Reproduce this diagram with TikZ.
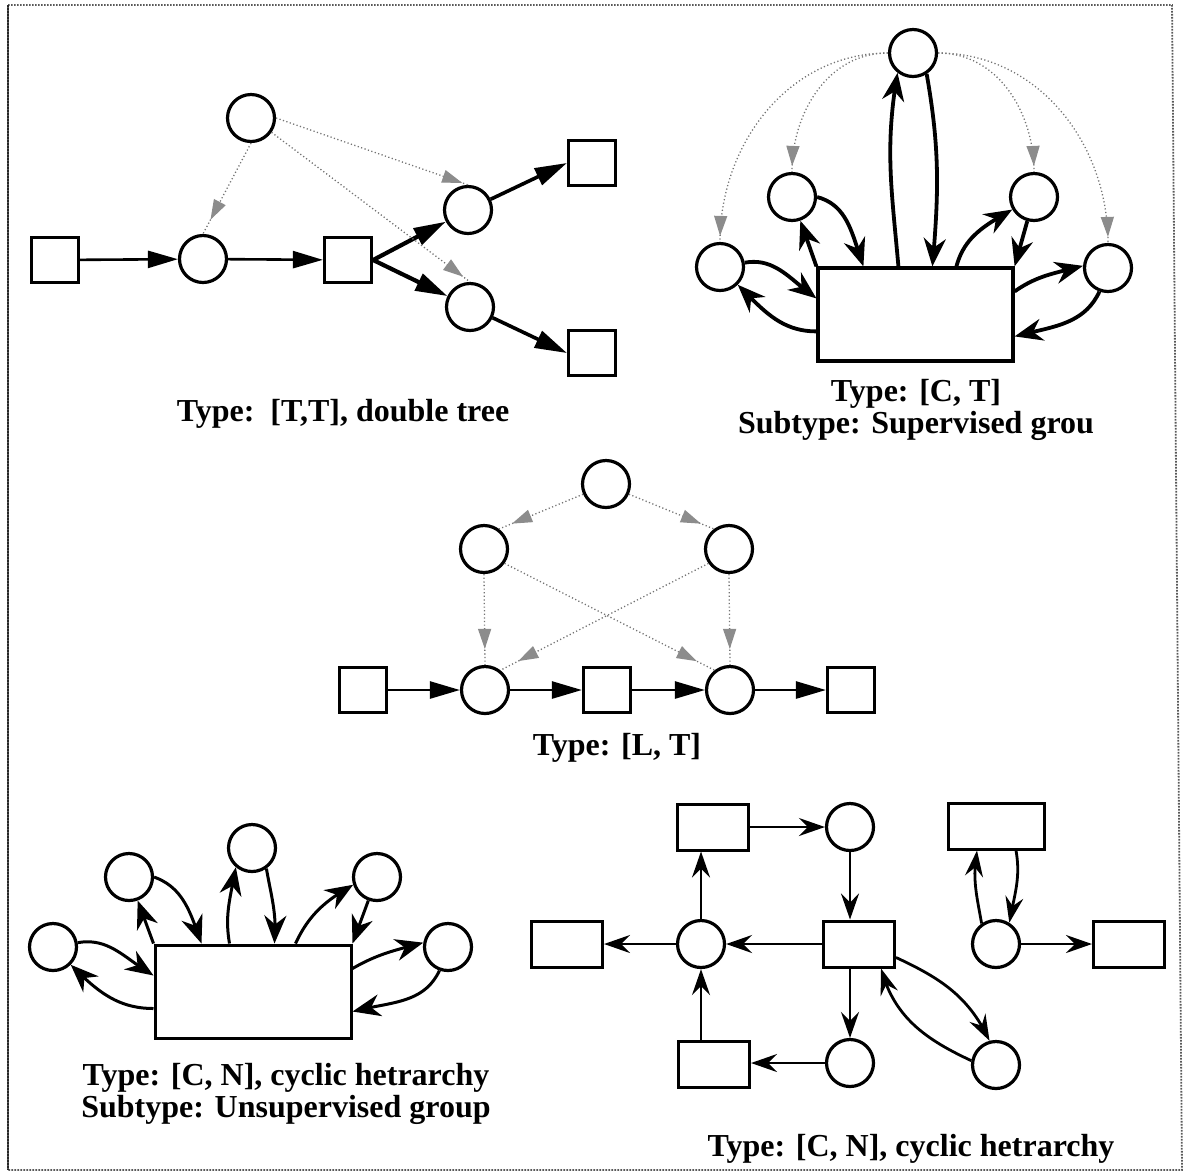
\documentclass[tikz,border=0pt]{standalone}
\usepackage{fontspec}
\setmainfont{Liberation Serif}
\usetikzlibrary{arrows.meta,bending,decorations.markings,calc}

\tikzset{
  pnode/.style={circle, draw, line width=1.6pt, minimum size=23.5pt, inner sep=0pt},
  sqbox/.style={rectangle, draw, line width=1.6pt, minimum width=23.5pt, minimum height=22.5pt, inner sep=0pt},
  wbox/.style={rectangle, draw, line width=1.5pt, minimum width=35.5pt, minimum height=23pt, inner sep=0pt},
  bigbox/.style={rectangle, draw, line width=1.6pt, inner sep=0pt},
  tri/.style={-{Triangle[length=15pt,width=8.5pt]}, line width=1.3pt},
  trithick/.style={-{Triangle[length=16pt,width=9pt]}, line width=2.1pt},
  barb/.style={-{Stealth[length=14pt,width=11pt,inset=4.5pt]}, line width=1.9pt},
  barbsm/.style={-{Stealth[length=13pt,width=9pt,inset=4.5pt]}, line width=1.4pt},
  ghost/.style={draw=black!55, line width=0.65pt, dash pattern=on 0.6pt off 1.2pt,
    postaction={decorate, decoration={markings,
      mark=at position #1 with {\arrow{Triangle[length=10pt,width=6.5pt,fill=black!45,color=black!45]}}}}},
  ghost/.default=-4pt,
  caption/.style={font=\bfseries\fontsize{16pt}{14.5pt}\selectfont, anchor=base, inner sep=0pt, align=center},
}

\begin{document}
\begin{tikzpicture}[x=0.5pt, y=0.5pt]
\useasboundingbox (0,0) rectangle (1186,-1174);

% outer frame
\draw[black!65, line width=0.9pt, dash pattern=on 0.8pt off 0.7pt]
  (8,-5) -- (1172,-5) -- (1182,-1170) -- (8,-1170) -- cycle;
\draw[black!85, line width=1.3pt, dash pattern=on 1pt off 0.5pt] (8,-5) -- (8,-1170);

% ---------- double tree ----------
\node[sqbox] (a1) at (55,-260) {};
\node[pnode] (a2) at (203,-259) {};
\node[sqbox] (a3) at (348,-260) {};
\node[pnode] (a4) at (468,-210) {};
\node[pnode] (a5) at (470,-307) {};
\node[sqbox] (a6) at (592,-163) {};
\node[sqbox] (a7) at (592,-353) {};
\node[pnode] (a0) at (251,-118) {};

\draw[tri] (a1) -- (a2);
\draw[tri] (a2) -- (a3);
\draw[trithick] (a3.east) -- (a4);
\draw[trithick] (a3.east) -- (a5);
\draw[trithick, line width=1.8pt] (a4) -- (a6.west);
\draw[trithick, line width=1.8pt] (a5) -- (a7.west);
\draw[ghost=-8pt] (a0.south) -- (a2.north);
\draw[ghost=-3pt] (a0.east) -- (a4.north);
\draw[ghost=-4pt] (a0.-35) -- (a5.north);

\node[caption] (la) at (343,-421) {Type:\ \ [T,T], double tree};

% ---------- supervised group ----------
\node[pnode] (b0) at (913,-53) {};
\node[pnode] (b1) at (720,-267) {};
\node[pnode] (b2) at (792,-197) {};
\node[pnode] (b3) at (1034,-197) {};
\node[pnode] (b4) at (1108,-268) {};
\node[bigbox, minimum width=97.5pt, minimum height=46.5pt] (bR) at (915.5,-314.5) {};

\draw[barb] ($(bR.north west)+(82,0)$) to[out=95,in=-100] (b0.-128);
\draw[barb] (b0.-57) to[out=-80,in=85] ($(bR.north west)+(116,0)$);
\draw[barb] (b1.10) to[out=10,in=145] ($(bR.north west)+(0,-32)$);
\draw[barb] ($(bR.north west)+(0,-65)$) to[out=180,in=-45] (b1.-45);
\draw[barb] (b2.0) to[out=-15,in=110] ($(bR.north west)+(47,0)$);
\draw[barb] (bR.north west) -- (b2);
\draw[barb] ($(bR.north west)+(140,0)$) to[out=75,in=-150] (b3.-150);
\draw[barb] (b3) -- (bR.north east);
\draw[barb] ($(bR.north east)+(0,-25)$) to[out=35,in=-165] (b4.175);
\draw[barb] (b4.-110) to[out=-115,in=15] ($(bR.north east)+(0,-70)$);

\draw[ghost=-3pt] (b0.west) to[out=180,in=90] (b1.north);
\draw[ghost=-3pt] (b0.west) to[out=180,in=90] (b2.north);
\draw[ghost=-3pt] (b0.east) to[out=0,in=90] (b3.north);
\draw[ghost=-3pt] (b0.east) to[out=0,in=90] (b4.north);

% base anchor sits on the last line of a two-line caption
\node[caption] (lb) at (916,-433) {Type: [C, T]\\Subtype: Supervised grou};

% ---------- [L, T] ----------
\node[pnode] (c0) at (606,-484) {};
\node[pnode] (c1) at (484,-549) {};
\node[pnode] (c2) at (729,-549) {};
\node[sqbox] (c3) at (363,-690) {};
\node[pnode] (c4) at (485,-690) {};
\node[sqbox] (c5) at (607,-690) {};
\node[pnode] (c6) at (730,-690) {};
\node[sqbox] (c7) at (851,-690) {};

\draw[tri] (c3) -- (c4);
\draw[tri] (c4) -- (c5);
\draw[tri] (c5) -- (c6);
\draw[tri] (c6) -- (c7);
\draw[ghost=-7pt] (c0.-156) -- (c1.53);
\draw[ghost=-7pt] (c0.-24) -- (c2.127);
\draw[ghost=-8pt] (c1.south) -- (c4.north);
\draw[ghost=-8pt] (c2.south) -- (c6.north);
\draw[ghost=-10pt] (c1.-35) -- (c6.128);
\draw[ghost=-10pt] (c2.-145) -- (c4.52);

\node[caption] (lc) at (617,-755) {Type: [L, T]};

% ---------- unsupervised group ----------
\node[pnode] (d1) at (53,-947) {};
\node[pnode] (d2) at (129,-877) {};
\node[pnode] (d3) at (252,-848) {};
\node[pnode] (d4) at (377,-877) {};
\node[pnode] (d5) at (448,-947) {};
\node[bigbox, line width=1.5pt, minimum width=98pt, minimum height=46.5pt] (dR) at (253,-991.5) {};

\draw[barb, line width=1.5pt] (d1.10) to[out=10,in=150] ($(dR.north west)+(0,-32)$);
\draw[barb, line width=1.5pt] ($(dR.north west)+(0,-65)$) to[out=180,in=-45] (d1.-45);
\draw[barb, line width=1.5pt] (d2.0) to[out=-20,in=110] ($(dR.north west)+(48,0)$);
\draw[barb, line width=1.5pt] (dR.north west) -- (d2);
\draw[barb, line width=1.5pt] ($(dR.north west)+(76,0)$) to[out=100,in=-100] (d3.-130);
\draw[barb, line width=1.5pt] (d3.-55) to[out=-80,in=85] ($(dR.north west)+(121,0)$);
\draw[barb, line width=1.5pt] ($(dR.north west)+(142,0)$) to[out=65,in=-150] (d4.-162);
\draw[barb, line width=1.5pt] (d4) -- (dR.north east);
\draw[barb, line width=1.5pt] ($(dR.north east)+(0,-25)$) to[out=30,in=-165] (d5.170);
\draw[barb, line width=1.5pt] (d5.-110) to[out=-115,in=15] ($(dR.north east)+(0,-68)$);

\node[caption, font=\bfseries\fontsize{16pt}{13.5pt}\selectfont] (ld) at (286,-1117)
  {Type: [C, N], cyclic hetrarchy\\Subtype: Unsupervised group};

% ---------- cyclic hetrarchy ----------
\node[wbox] (e1) at (713,-827) {};
\node[pnode] (e2) at (850,-827) {};
\node[wbox, minimum width=48pt] (e3) at (996,-826) {};
\node[wbox] (e4) at (567,-944) {};
\node[pnode] (e5) at (701,-944) {};
\node[wbox] (e6) at (859,-944) {};
\node[pnode] (e7) at (996,-944) {};
\node[wbox] (e8) at (1129,-944) {};
\node[wbox] (e9) at (714,-1064) {};
\node[pnode] (e10) at (850,-1063) {};
\node[pnode] (e11) at (996,-1065) {};

\draw[barbsm] (e1) -- (e2);
\draw[barbsm] (e2.south) -- (e2.south |- e6.north);
\draw[barbsm] (e6.west) -- (e5.east);
\draw[barbsm] (e5.west) -- (e4.east);
\draw[barbsm] (e5.north) -- (e5.north |- e1.south);
\draw[barbsm] (e5.south |- e9.north) -- (e5.south);
\draw[barbsm] (e10.north |- e6.south) -- (e10.north);
\draw[barbsm] (e10.west) -- (e9.east |- e10.west);
\draw[barbsm] (e6.-20) to[out=-25,in=115] (e11.105);
\draw[barbsm] (e11.170) to[out=155,in=-75] ($(e6.south east)+(-15,0)$);
\draw[barbsm] ($(e3.south)+(20,0)$) to[out=-80,in=80] (e7.58);
\draw[barbsm] (e7.125) to[out=100,in=-100] ($(e3.south)+(-19,0)$);
\draw[barbsm] (e7.east) -- (e8.west);

\node[caption] (le) at (911,-1156) {Type: [C, N], cyclic hetrarchy};
\end{tikzpicture}
\end{document}
